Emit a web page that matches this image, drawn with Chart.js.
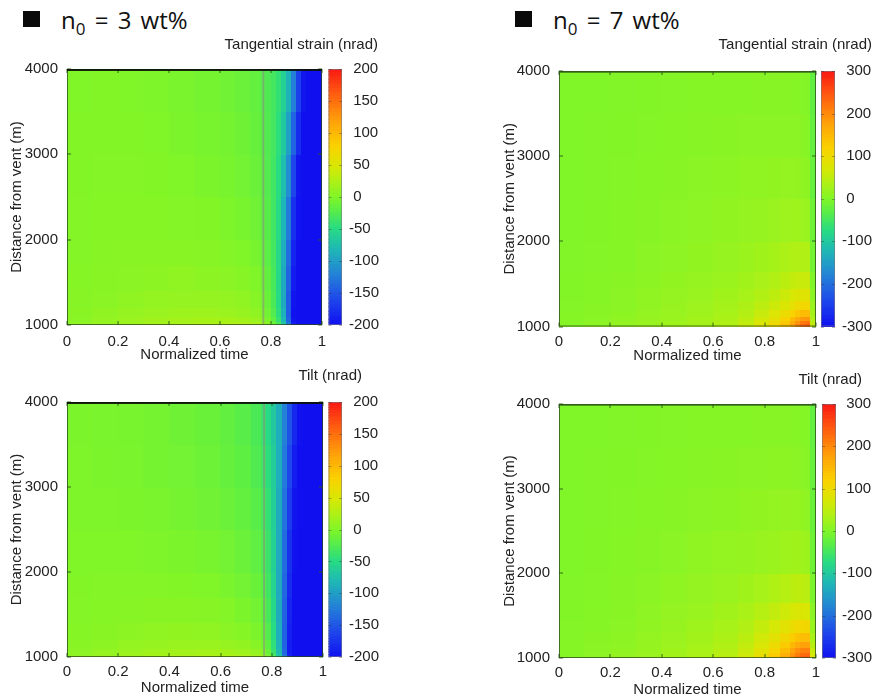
<!DOCTYPE html>
<html>
<head>
<meta charset="utf-8">
<script src="https://cdn.jsdelivr.net/npm/chart.js@4/dist/chart.umd.min.js"></script>
<style>
  html, body { margin: 0; padding: 0; background: #fff; }
  body { width: 875px; height: 697px; position: relative; overflow: hidden; }
  canvas { position: absolute; }
  .sq { position: absolute; width: 17px; height: 16px; background: #0a0a0a; }
  .hd { position: absolute; font-family: "Open Sans", sans-serif; font-size: 24px; line-height: 24px; word-spacing: 3px; color: #111; white-space: nowrap; }
  .hd .sb { font-size: 17px; position: relative; top: 6px; }
</style>
</head>
<body>
<div class="sq" style="left:23px;top:11px"></div>
<div class="hd" style="left:61px;top:8px">n<span class="sb">0</span> = 3 wt%</div>
<div class="sq" style="left:515px;top:11px"></div>
<div class="hd" style="left:553px;top:8px">n<span class="sb">0</span> = 7 wt%</div>
<script>
// ---- axis ticks ----
const X_TICKS = [0, 0.2, 0.4, 0.6, 0.8, 1];
const Y_TICKS = [1000, 2000, 3000, 4000];
const CB_TICKS_N3 = [-200, -150, -100, -50, 0, 50, 100, 150, 200];
const CB_TICKS_N7 = [-300, -200, -100, 0, 100, 200, 300];

// ---- grids (cell edges) ----
const T_EDGES_N3 = [0, 0.1, 0.2, 0.3, 0.4, 0.5, 0.6, 0.66, 0.72, 0.76, 0.78, 0.8, 0.82, 0.84, 0.86, 0.88, 0.9, 0.92, 0.94, 0.96, 1];
const R_EDGES_N3 = [1000, 1040, 1100, 1200, 1400, 1700, 2000, 2500, 3000, 3500, 4000];
const T_EDGES_N7 = [0, 0.1, 0.2, 0.3, 0.4, 0.5, 0.6, 0.7, 0.76, 0.82, 0.86, 0.9, 0.92, 0.94, 0.96, 0.98, 1];
const R_EDGES_N7 = [1000, 1030, 1070, 1120, 1200, 1300, 1450, 1650, 2000, 2500, 3000, 3500, 4000];

// time of the vertical marker seen in the n0 = 3 wt% runs
const TIME_MARK_N3 = 0.77;

// ---- n0 = 3 wt% : tangential strain (nrad), rows from 1000 m upward ----
const STRAIN_N3 = [
  [8, 12, 16, 20, 22, 24, 25, 25, 22, 15, 5, -10, -30, -70, -130, -190, -200, -200, -200, -200],
  [6, 10, 14, 17, 19, 20, 20, 18, 14, 8, -2, -18, -40, -80, -140, -195, -200, -200, -200, -200],
  [5, 8, 11, 13, 15, 15, 14, 12, 8, 2, -8, -24, -46, -86, -145, -198, -200, -200, -200, -200],
  [4, 6, 8, 10, 11, 11, 10, 8, 4, -2, -12, -28, -50, -90, -145, -195, -200, -200, -200, -200],
  [3, 5, 6, 7, 8, 7, 6, 4, 0, -6, -16, -30, -52, -90, -140, -190, -200, -200, -200, -200],
  [2, 4, 5, 5, 5, 4, 2, 0, -4, -10, -20, -32, -52, -88, -135, -185, -200, -200, -200, -200],
  [2, 3, 3, 3, 2, 1, -1, -4, -8, -14, -22, -33, -50, -82, -125, -175, -198, -200, -200, -200],
  [1, 2, 2, 1, 0, -2, -4, -7, -11, -16, -24, -33, -48, -75, -112, -160, -195, -200, -200, -200],
  [1, 1, 1, 0, -2, -4, -6, -9, -13, -18, -25, -32, -45, -66, -98, -140, -180, -200, -200, -200],
  [0, 1, 0, -1, -3, -5, -8, -11, -15, -20, -26, -32, -42, -58, -85, -120, -165, -195, -200, -200]
];

// ---- n0 = 3 wt% : tilt (nrad) ----
const TILT_N3 = [
  [8, 12, 16, 20, 22, 24, 24, 22, 18, 10, -5, -30, -70, -130, -185, -200, -200, -200, -200, -200],
  [6, 10, 13, 16, 18, 19, 18, 15, 10, 2, -12, -38, -78, -138, -190, -200, -200, -200, -200, -200],
  [5, 7, 10, 12, 13, 13, 12, 9, 4, -4, -18, -44, -84, -140, -190, -200, -200, -200, -200, -200],
  [3, 5, 7, 8, 9, 8, 6, 3, -2, -10, -24, -48, -88, -142, -188, -200, -200, -200, -200, -200],
  [2, 3, 4, 5, 5, 4, 2, -2, -7, -15, -30, -52, -90, -140, -185, -200, -200, -200, -200, -200],
  [1, 2, 2, 2, 1, 0, -3, -7, -12, -20, -34, -56, -92, -138, -180, -200, -200, -200, -200, -200],
  [0, 0, 0, -1, -2, -4, -7, -11, -17, -25, -38, -58, -92, -135, -175, -198, -200, -200, -200, -200],
  [-1, -1, -2, -3, -5, -8, -11, -15, -21, -30, -42, -60, -90, -130, -168, -195, -200, -200, -200, -200],
  [-1, -2, -3, -5, -7, -10, -14, -18, -25, -34, -46, -62, -88, -125, -160, -190, -200, -200, -200, -200],
  [-2, -3, -4, -6, -9, -12, -16, -21, -28, -38, -50, -65, -88, -120, -152, -182, -198, -200, -200, -200]
];

// ---- n0 = 7 wt% : tangential strain (nrad) ----
const STRAIN_N7 = [
  [5, 10, 15, 20, 25, 30, 40, 58, 82, 110, 145, 180, 210, 235, 245, 60],
  [5, 10, 15, 20, 25, 30, 38, 53, 76, 102, 134, 166, 193, 215, 222, 50],
  [5, 8, 12, 18, 22, 28, 35, 48, 68, 90, 118, 146, 168, 185, 188, 40],
  [4, 7, 10, 15, 20, 25, 32, 43, 58, 77, 98, 118, 134, 146, 148, 30],
  [3, 6, 9, 13, 18, 23, 29, 37, 49, 62, 78, 92, 102, 110, 110, 20],
  [2, 5, 8, 12, 16, 20, 26, 32, 40, 50, 62, 72, 78, 82, 82, 10],
  [2, 4, 7, 10, 14, 18, 22, 27, 33, 40, 48, 54, 58, 60, 58, 0],
  [1, 3, 5, 8, 11, 14, 18, 22, 26, 30, 35, 38, 40, 40, 38, -10],
  [0, 2, 4, 6, 8, 11, 14, 16, 19, 21, 23, 24, 24, 23, 20, -15],
  [0, 1, 3, 4, 6, 8, 10, 12, 13, 14, 15, 15, 14, 13, 10, -20],
  [0, 1, 2, 3, 4, 6, 7, 8, 9, 9, 9, 9, 8, 7, 5, -22],
  [0, 0, 1, 2, 3, 4, 5, 5, 6, 6, 6, 5, 4, 3, 2, -25]
];

// ---- n0 = 7 wt% : tilt (nrad) ----
const TILT_N7 = [
  [6, 11, 16, 22, 28, 36, 50, 70, 100, 135, 170, 200, 225, 240, 245, 80],
  [6, 11, 16, 21, 27, 35, 47, 65, 94, 126, 160, 190, 212, 228, 232, 70],
  [5, 9, 13, 19, 25, 32, 43, 59, 85, 114, 146, 175, 195, 208, 210, 58],
  [4, 8, 11, 17, 23, 30, 40, 54, 76, 100, 128, 152, 168, 178, 178, 45],
  [3, 7, 10, 15, 21, 27, 36, 48, 66, 86, 108, 126, 138, 145, 144, 32],
  [3, 5, 9, 13, 18, 24, 32, 41, 55, 70, 86, 98, 106, 110, 108, 20],
  [2, 4, 7, 11, 16, 20, 27, 34, 44, 54, 64, 72, 76, 78, 75, 8],
  [1, 3, 6, 9, 13, 16, 21, 26, 32, 38, 44, 48, 50, 50, 46, -4],
  [0, 2, 4, 6, 9, 12, 15, 17, 20, 22, 25, 26, 26, 25, 22, -14],
  [0, 1, 3, 4, 6, 8, 10, 12, 14, 15, 16, 16, 15, 14, 11, -18],
  [0, 1, 2, 3, 4, 6, 7, 8, 9, 10, 10, 10, 9, 8, 6, -20],
  [0, 0, 1, 2, 3, 4, 5, 5, 6, 6, 6, 6, 5, 4, 3, -22]
];

// ---- colour map (fraction of the colour range -> rgb) ----
const PALETTE = [
  [0.00, [15, 15, 240]],
  [0.10, [30, 70, 235]],
  [0.20, [35, 130, 215]],
  [0.30, [30, 185, 180]],
  [0.38, [40, 220, 130]],
  [0.45, [90, 238, 70]],
  [0.50, [128, 245, 40]],
  [0.55, [165, 242, 25]],
  [0.62, [215, 232, 5]],
  [0.70, [250, 210, 0]],
  [0.80, [255, 160, 10]],
  [0.90, [255, 95, 15]],
  [1.00, [250, 25, 20]]
];

function colorAt(v, min, max) {
  let s = (v - min) / (max - min);
  s = Math.max(0, Math.min(1, s));
  for (let k = 1; k < PALETTE.length; k++) {
    const [s1, c1] = PALETTE[k];
    if (s <= s1) {
      const [s0, c0] = PALETTE[k - 1];
      const f = (s - s0) / (s1 - s0);
      const c = c0.map((a, i) => Math.round(a + (c1[i] - a) * f));
      return `rgb(${c[0]},${c[1]},${c[2]})`;
    }
  }
  const c = PALETTE[PALETTE.length - 1][1];
  return `rgb(${c[0]},${c[1]},${c[2]})`;
}

Chart.defaults.font.family = '"Liberation Sans", Arial, sans-serif';
Chart.defaults.font.size = 15;
Chart.defaults.color = '#222';

// draws the field cells and the colour bar through the chart's own scales
function heatmapPlugin(p) {
  return {
    id: 'heatmap_' + p.key,
    beforeDatasetsDraw(chart) {
      const { ctx, chartArea: ca, scales } = chart;
      const xs = scales.x, ys = scales.y, cb = scales.cb;
      ctx.save();
      for (let j = 0; j < p.rows.length - 1; j++) {
        const yb = ys.getPixelForValue(p.rows[j]);
        const yt = ys.getPixelForValue(p.rows[j + 1]);
        for (let i = 0; i < p.cols.length - 1; i++) {
          const xl = xs.getPixelForValue(p.cols[i]);
          const xr = xs.getPixelForValue(p.cols[i + 1]);
          ctx.fillStyle = colorAt(p.values[j][i], cb.min, cb.max);
          const x0 = Math.floor(xl), y0 = Math.floor(yt);
          ctx.fillRect(x0, y0, Math.ceil(xr) - x0, Math.ceil(yb) - y0);
        }
      }
      // colour bar
      const bl = ca.right + p.cbGap, bw = p.cbWidth;
      const steps = 96;
      for (let k = 0; k < steps; k++) {
        const v0 = cb.min + (cb.max - cb.min) * k / steps;
        const v1 = cb.min + (cb.max - cb.min) * (k + 1) / steps;
        const ya = cb.getPixelForValue(v1), yb2 = cb.getPixelForValue(v0);
        ctx.fillStyle = colorAt((v0 + v1) / 2, cb.min, cb.max);
        ctx.fillRect(bl, Math.floor(ya), bw, Math.ceil(yb2) - Math.floor(ya));
      }
      ctx.strokeStyle = 'rgba(120,120,130,0.6)';
      ctx.lineWidth = 1;
      ctx.strokeRect(bl + 0.5, ca.top + 0.5, bw - 1, ca.bottom - ca.top - 1);
      ctx.strokeStyle = 'rgba(40,40,40,0.35)';
      for (const t of p.cbTicks) {
        const yy = Math.round(cb.getPixelForValue(t)) + 0.5;
        ctx.beginPath();
        ctx.moveTo(bl, yy); ctx.lineTo(bl + 3, yy);
        ctx.moveTo(bl + bw - 3, yy); ctx.lineTo(bl + bw, yy);
        ctx.stroke();
      }
      // colour bar title
      ctx.fillStyle = '#222';
      ctx.font = '15px "Liberation Sans", Arial, sans-serif';
      ctx.textAlign = 'right';
      ctx.textBaseline = 'middle';
      ctx.fillText(p.cbTitle, ca.right + p.titleDx, p.titleY);
      ctx.restore();
    },
    afterDatasetsDraw(chart) {
      const { ctx, chartArea: ca, scales } = chart;
      ctx.save();
      // inward tick marks
      ctx.fillStyle = 'rgba(40,90,20,0.45)';
      for (const t of X_TICKS) {
        const xx = Math.round(scales.x.getPixelForValue(t));
        ctx.fillRect(xx - 1, ca.bottom - 4, 2, 4);
        ctx.fillRect(xx - 1, ca.top, 2, 4);
      }
      for (const t of Y_TICKS) {
        const yy = Math.round(scales.y.getPixelForValue(t));
        ctx.fillRect(ca.left, yy - 1, 4, 2);
        ctx.fillRect(ca.right - 4, yy - 1, 4, 2);
      }
      // frame
      ctx.strokeStyle = 'rgba(40,70,25,0.75)';
      ctx.lineWidth = 1;
      ctx.strokeRect(ca.left + 0.5, ca.top + 0.5, ca.right - ca.left - 1, ca.bottom - ca.top - 1);
      ctx.strokeStyle = p.topEdge;
      ctx.lineWidth = 2;
      ctx.beginPath();
      ctx.moveTo(ca.left, ca.top + 1);
      ctx.lineTo(ca.right, ca.top + 1);
      ctx.stroke();
      ctx.restore();
    }
  };
}

function makePanel(p) {
  const cv = document.createElement('canvas');
  cv.width = p.box.w; cv.height = p.box.h;
  cv.style.left = p.box.x + 'px';
  cv.style.top = p.box.y + 'px';
  document.body.appendChild(cv);
  const a = p.area;
  const datasets = [];
  if (p.mark != null) {
    datasets.push({
      data: [{ x: p.mark, y: R_EDGES_N3[0] }, { x: p.mark, y: R_EDGES_N3[R_EDGES_N3.length - 1] }],
      showLine: true,
      borderColor: 'rgba(130,145,135,0.6)',
      borderWidth: 2,
      pointRadius: 0
    });
  }
  new Chart(cv, {
    type: 'scatter',
    data: { datasets },
    options: {
      responsive: false,
      animation: false,
      events: [],
      layout: { padding: { left: 0, right: 0, bottom: 0, top: a.t - p.box.y } },
      plugins: { legend: { display: false }, tooltip: { enabled: false } },
      scales: {
        x: {
          type: 'linear', position: 'bottom', min: 0, max: 1,
          afterBuildTicks: s => { s.ticks = X_TICKS.map(v => ({ value: v })); },
          afterFit: s => { s.height = p.box.y + p.box.h - a.b; },
          grid: { display: false, drawTicks: false },
          border: { display: false },
          ticks: { padding: p.xTickPad, maxRotation: 0, autoSkip: false, color: '#222', callback: v => String(v) },
          title: { display: true, text: 'Normalized time', color: '#222', padding: { top: 0, bottom: p.xTitlePad } }
        },
        y: {
          type: 'linear', position: 'left', min: 1000, max: 4000,
          afterBuildTicks: s => { s.ticks = Y_TICKS.map(v => ({ value: v })); },
          afterFit: s => { s.width = a.l - p.box.x; },
          grid: { display: false, drawTicks: false },
          border: { display: false },
          ticks: { padding: p.yTickPad, autoSkip: false, color: '#222', callback: v => String(v) },
          title: { display: true, text: 'Distance from vent (m)', color: '#222', padding: { top: p.yTitlePad, bottom: 0 } }
        },
        cb: {
          type: 'linear', axis: 'y', position: 'right', min: p.cbTicks[0], max: p.cbTicks[p.cbTicks.length - 1],
          afterBuildTicks: s => { s.ticks = p.cbTicks.map(v => ({ value: v })); },
          afterFit: s => { s.width = p.box.x + p.box.w - a.r; },
          grid: { display: false, drawTicks: false },
          border: { display: false },
          ticks: { padding: p.cbTickPad, autoSkip: false, color: '#222', callback: v => (v < 0 ? '-' + Math.abs(v) : ' ' + v) }
        }
      }
    },
    plugins: [heatmapPlugin(p)]
  });
}

makePanel({
  key: 'strain3', box: { x: 0, y: 30, w: 382, h: 340 }, area: { l: 67, t: 69, r: 322, b: 325 },
  cols: T_EDGES_N3, rows: R_EDGES_N3, values: STRAIN_N3, cbTicks: CB_TICKS_N3, mark: TIME_MARK_N3,
  cbTitle: 'Tangential strain (nrad)', titleDx: 56, titleY: 14.5, cbGap: 6.5, cbWidth: 13.5,
  xTickPad: 7.5, xTitlePad: 6, yTickPad: 9, yTitlePad: 7.5, cbTickPad: 27, topEdge: 'rgba(10,15,10,0.9)'
});
makePanel({
  key: 'tilt3', box: { x: 0, y: 362, w: 382, h: 335 }, area: { l: 67, t: 402, r: 323, b: 657 },
  cols: T_EDGES_N3, rows: R_EDGES_N3, values: TILT_N3, cbTicks: CB_TICKS_N3, mark: TIME_MARK_N3,
  cbTitle: 'Tilt (nrad)', titleDx: 39, titleY: 13.7, cbGap: 5.5, cbWidth: 13.5,
  xTickPad: 6, xTitlePad: 0, yTickPad: 9, yTitlePad: 7.5, cbTickPad: 26, topEdge: 'rgba(10,15,10,0.9)'
});
makePanel({
  key: 'strain7', box: { x: 494, y: 30, w: 381, h: 340 }, area: { l: 559, t: 71, r: 816, b: 326.5 },
  cols: T_EDGES_N7, rows: R_EDGES_N7, values: STRAIN_N7, cbTicks: CB_TICKS_N7, mark: null,
  cbTitle: 'Tangential strain (nrad)', titleDx: 56, titleY: 14.7, cbGap: 5, cbWidth: 14,
  xTickPad: 6, xTitlePad: 5, yTickPad: 9, yTitlePad: 7, cbTickPad: 26, topEdge: 'rgba(40,80,25,0.6)'
});
makePanel({
  key: 'tilt7', box: { x: 494, y: 362, w: 381, h: 337 }, area: { l: 559, t: 404, r: 816, b: 658 },
  cols: T_EDGES_N7, rows: R_EDGES_N7, values: TILT_N7, cbTicks: CB_TICKS_N7, mark: null,
  cbTitle: 'Tilt (nrad)', titleDx: 46, titleY: 18, cbGap: 6, cbWidth: 14,
  xTickPad: 6, xTitlePad: 0, yTickPad: 9, yTitlePad: 7, cbTickPad: 26, topEdge: 'rgba(40,80,25,0.6)'
});
</script>
</body>
</html>
